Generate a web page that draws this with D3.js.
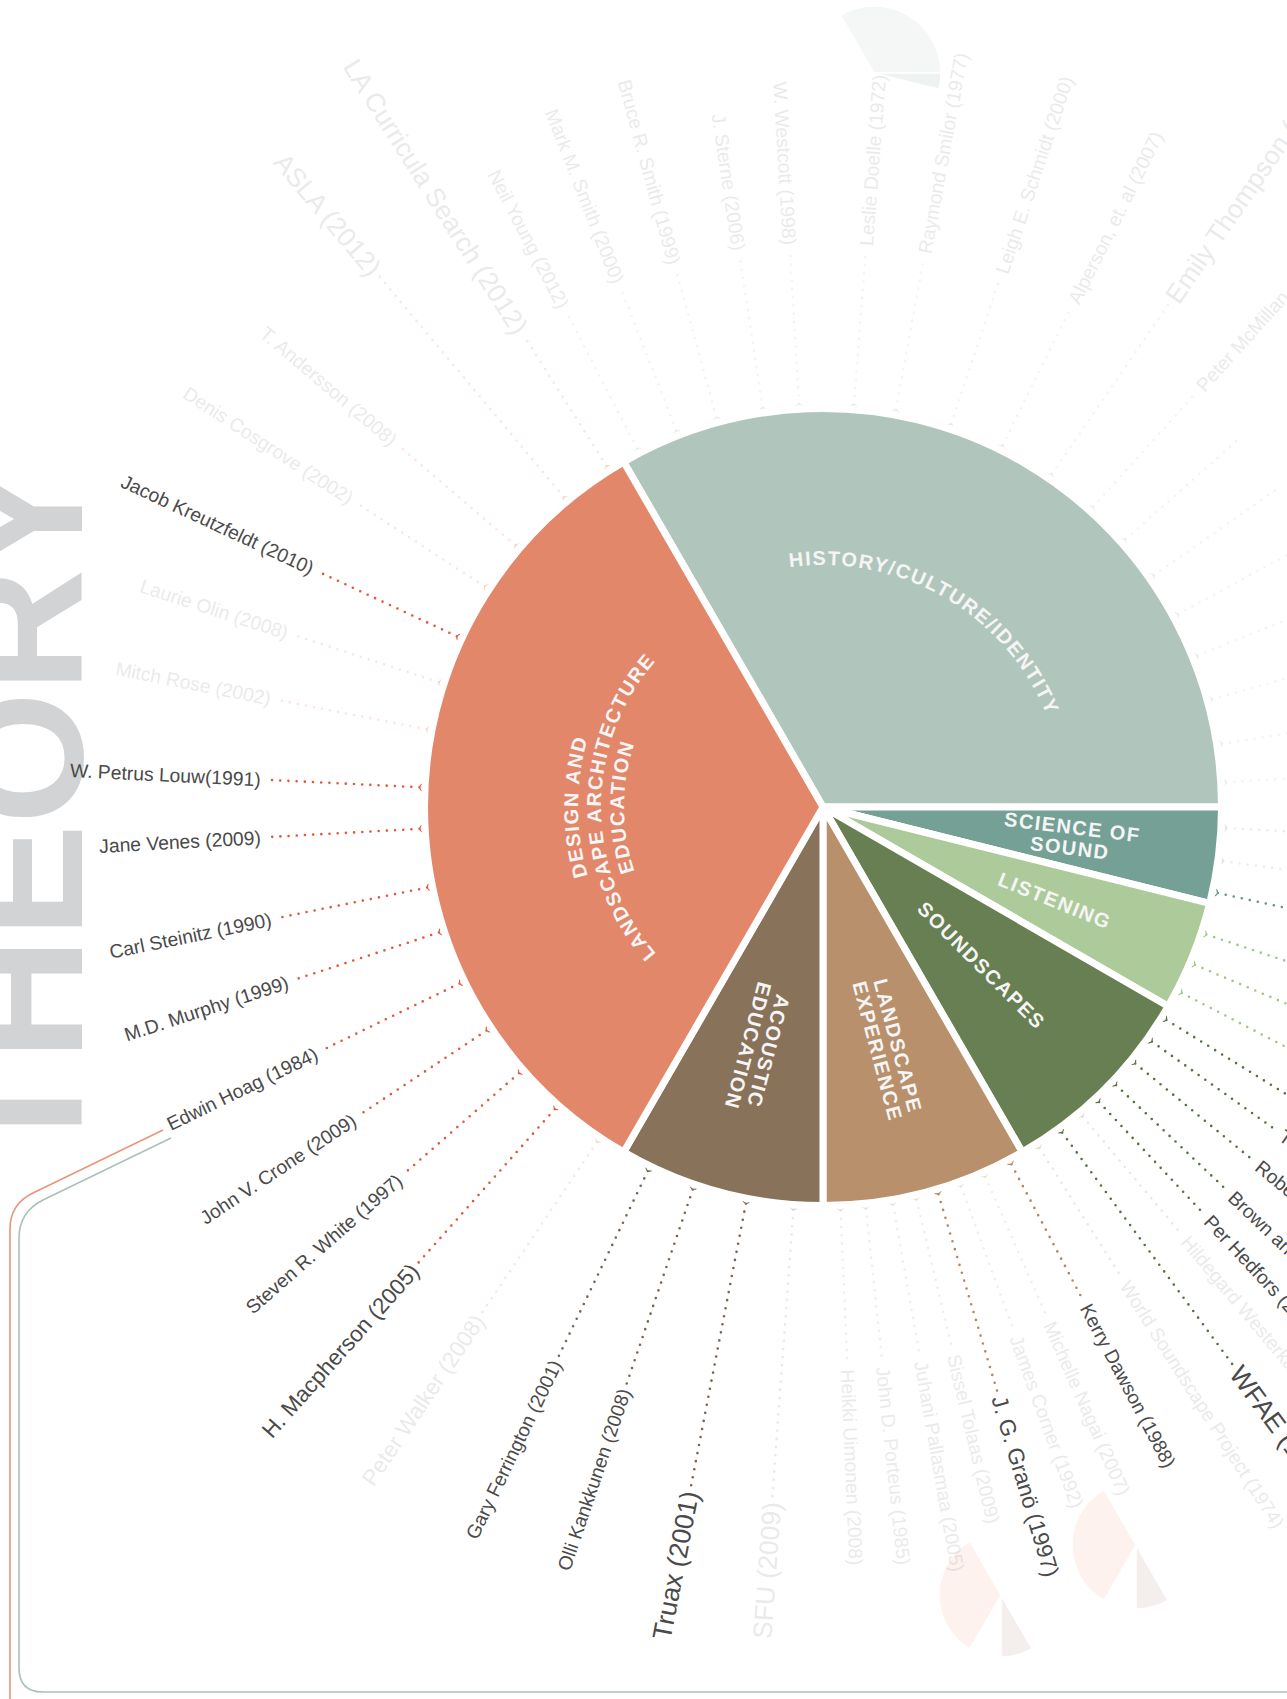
<!DOCTYPE html>
<html>
<head>
<meta charset="utf-8">
<script src="https://d3js.org/d3.v7.min.js"></script>
<style>
  body { margin: 0; background: #fff; }
  svg text { font-family: "Liberation Sans", Arial, sans-serif; }
  .ref { fill: #4a4a4a; }
  .slice-label { fill: #f5f5f5; font-weight: bold; font-size: 20px; letter-spacing: 1.5px; }
  .theory { fill: #d1d3d4; font-weight: bold; font-size: 170px; }
</style>
</head>
<body>
<svg id="chart" width="1287" height="1699"></svg>
<script>
// pie categories, clockwise from the upper-left cut
var categories = ["HISTORY/CULTURE/IDENTITY", "SCIENCE OF SOUND", "LISTENING", "SOUNDSCAPES",
                  "LANDSCAPE EXPERIENCE", "ACOUSTIC EDUCATION", "DESIGN AND LANDSCAPE ARCHITECTURE EDUCATION"];
var shares = [120, 14, 16, 30, 30, 30, 120];
var sliceLines = [["HISTORY/CULTURE/IDENTITY"], ["SCIENCE OF", "SOUND"], ["LISTENING"], ["SOUNDSCAPES"],
                  ["LANDSCAPE", "EXPERIENCE"], ["ACOUSTIC", "EDUCATION"],
                  ["DESIGN AND", "LANDSCAPE ARCHITECTURE", "EDUCATION"]];
var sliceColors = ["#b0c5bb", "#74a096", "#adca9b", "#677f52", "#b8906c", "#89725a", "#e2876a"];
var dotColors   = ["#a3bcb0", "#5f9488", "#a0c688", "#55733f", "#b4885f", "#78644f", "#e0573b"];

// references round the pie (angle in degrees, clockwise from 12 o'clock)
var refNames = [
  "Neil Young (2012)", "Mark M. Smith (2000)", "Bruce R. Smith (1999)", "J. Sterne (2006)", "W. Westcott (1998)",
  "Leslie Doelle (1972)", "Raymond Smilor (1977)", "Leigh E. Schmidt (2000)", "Alperson, et. al (2007)",
  "Emily Thompson (2002)", "Peter McMillan", "", "", "", "", "", "", "",
  "", "", "",
  "", "", "",
  "", "Truax", "Robert", "Brown and", "Per Hedfors (2003)", "Hildegard Westerkamp (2002)", "WFAE (1993)",
  "World Soundscape Project (1974)",
  "Kerry Dawson (1988)", "Michelle Nagai (2007)", "James Corner (1992)", "J. G. Granö (1997)", "Sissel Tolaas (2009)",
  "Juhani Pallasmaa (2005)", "John D. Porteus (1985)", "Heikki Uimonen (2008)",
  "SFU (2009)", "Truax (2001)", "Olli Kankkunen (2008)", "Gary Ferrington (2001)",
  "Peter Walker (2008)", "H. Macpherson (2005)", "Steven R. White (1997)", "John V. Crone (2009)", "Edwin Hoag (1984)",
  "M.D. Murphy (1999)", "Carl Steinitz (1990)", "Jane Venes (2009)", "W. Petrus Louw(1991)", "Mitch Rose (2002)",
  "Laurie Olin (2008)", "Jacob Kreutzfeldt (2010)", "Denis Cosgrove (2002)", "T. Andersson (2008)", "ASLA (2012)",
  "LA Curricula Search (2012)"
];
var refAngles = [
  332.6, 338.7, 344.7, 351.4, 356.6, 4.4, 10.4, 18.5, 26.4, 34.5, 42, 48.5, 55, 61.5, 68, 74.5, 81, 86.5,
  93, 97.7, 102.3,
  108.4, 113, 117.4,
  121.8, 125.5, 129.4, 133.5, 136.9, 140, 143.7, 147.6,
  152.2, 156.3, 160, 163.4, 166.6, 170, 173.9, 177.5,
  184.2, 191, 198.8, 205.7,
  214, 221.6, 228.8, 236.4, 244.1, 251.9, 258.5, 266.9, 272.8, 281.1, 288, 295, 303.1, 310.4, 320.1, 327.6
];
var refActive = [
  0, 0, 0, 0, 0, 0, 0, 0, 0, 0, 0, 0, 0, 0, 0, 0, 0, 0,
  0, 0, 1,
  1, 1, 1,
  1, 1, 1, 1, 1, 0, 1, 0,
  1, 0, 0, 1, 0, 0, 0, 0,
  0, 1, 1, 1,
  0, 1, 1, 1, 1, 1, 1, 1, 1, 0, 0, 1, 0, 0, 0, 0
];
// 0 small, 1 medium, 2 large
var refWeight = [
  0, 0, 0, 0, 0, 0, 0, 0, 0, 2, 0, 0, 0, 0, 0, 0, 0, 0,
  0, 0, 0,
  0, 0, 0,
  0, 0, 0, 0, 0, 0, 2, 0,
  0, 0, 0, 1, 0, 0, 0, 0,
  2, 2, 0, 0,
  1, 1, 0, 0, 0, 0, 0, 0, 0, 0, 0, 0, 0, 0, 2, 2
];
// 0 inner ring, 1 middle ring, 2 outer ring of names
var refRing = [
  0, 0, 0, 0, 0, 0, 0, 0, 0, 1, 0, 0, 0, 0, 0, 0, 0, 0,
  0, 0, 0,
  0, 0, 0,
  0, 0, 0, 0, 0, 0, 2, 0,
  0, 0, 0, 1, 0, 0, 0, 0,
  2, 2, 1, 1,
  1, 1, 0, 0, 0, 0, 0, 0, 0, 0, 0, 0, 0, 0, 2, 0
];

var svg = d3.select("#chart");
var defs = svg.append("defs");
var cx = 823, cy = 807, R = 395;
var start = -Math.PI / 6;

svg.append("rect").attr("width", 1287).attr("height", 1699).attr("fill", "#fff");

// big THEORY word, cut by the left edge
svg.append("text").attr("class", "theory")
    .attr("transform", "translate(82,462) rotate(-90)")
    .attr("text-anchor", "end")
    .text("THEORY");

// frame lines
svg.append("path")
    .attr("d", "M163,1130 L33,1193 Q10,1204 10,1229 L10,1699")
    .attr("fill", "none").attr("stroke", "#ea9479").attr("stroke-width", 1.6);
svg.append("path")
    .attr("d", "M171,1138 L43,1200 Q19,1212 19,1238 L19,1668 Q19,1692 43,1692 L1287,1692")
    .attr("fill", "none").attr("stroke", "#a9c2b7").attr("stroke-width", 1.6);

var pie = d3.pie().sort(null).startAngle(start).endAngle(start + 2 * Math.PI);
var arcs = pie(shares);

// faint mini pies
var miniPies = [
  {x: 874, y: 73, r: 67, show: [0, 1], fills: ["#f5f7f7", "#eef3f2"]},
  {x: 1136, y: 1545, r: 64, show: [6, 4], fills: ["#fdf2ed", "#f4efec"]},
  {x: 1001, y: 1595, r: 62, show: [6, 4], fills: ["#fdf2ed", "#f4efec"]}
];
miniPies.forEach(function (m) {
  var mg = svg.append("g").attr("transform", "translate(" + m.x + "," + m.y + ")");
  var ma = d3.arc().innerRadius(0).outerRadius(m.r);
  m.show.forEach(function (k, j) {
    mg.append("path").attr("d", ma(arcs[k])).attr("fill", m.fills[j])
      .attr("stroke", "#fff").attr("stroke-width", 1.5);
  });
});

var g = svg.append("g").attr("transform", "translate(" + cx + "," + cy + ")");

function pt(r, a) { return [r * Math.sin(a), -r * Math.cos(a)]; }
function sliceOf(a) {
  if (a >= start + 2 * Math.PI) a -= 2 * Math.PI;
  for (var k = 0; k < arcs.length; k++) {
    if (a >= arcs[k].startAngle && a < arcs[k].endAngle) return k;
  }
  return 0;
}

var ringR = d3.scaleOrdinal().domain([0, 1, 2]).range([563, 615, 697]);
var fontSize = d3.scaleOrdinal().domain([0, 1, 2]).range([19.3, 22.5, 26.5]);
var rad = d3.scaleLinear().domain([0, 360]).range([0, 2 * Math.PI]);

var refs = refNames.map(function (n, i) {
  var a = rad(refAngles[i]);
  return {name: n, a: a, deg: refAngles[i], active: refActive[i], size: fontSize(refWeight[i]),
          r: ringR(refRing[i]), cat: sliceOf(a)};
});

// dotted spokes
var spokes = g.append("g");
spokes.selectAll("line").data(refs).enter().append("line")
    .attr("x1", function (d) { return pt(R + 9, d.a)[0]; })
    .attr("y1", function (d) { return pt(R + 9, d.a)[1]; })
    .attr("x2", function (d) { return pt(d.r - 5, d.a)[0]; })
    .attr("y2", function (d) { return pt(d.r - 5, d.a)[1]; })
    .attr("stroke", function (d) { return dotColors[d.cat]; })
    .attr("stroke-width", 2.6)
    .attr("stroke-linecap", "round")
    .attr("stroke-dasharray", "0 8.2")
    .attr("opacity", function (d) { return d.active ? 1 : 0.14; });

spokes.selectAll("circle").data(refs).enter().append("circle")
    .attr("cx", function (d) { return pt(R + 5, d.a)[0]; })
    .attr("cy", function (d) { return pt(R + 5, d.a)[1]; })
    .attr("r", 3.6)
    .attr("fill", "#fff")
    .attr("stroke", function (d) { return dotColors[d.cat]; })
    .attr("stroke-width", 1.2)
    .attr("opacity", function (d) { return d.active ? 1 : 0.2; });

spokes.selectAll("text").data(refs).enter().append("text")
    .attr("class", "ref")
    .attr("transform", function (d) {
      var p = pt(d.r, d.a);
      var rot = d.deg < 180 ? d.deg - 90 : d.deg + 90;
      return "translate(" + p[0] + "," + p[1] + ") rotate(" + rot + ")";
    })
    .attr("text-anchor", function (d) { return d.deg < 180 ? "start" : "end"; })
    .attr("dy", "0.35em")
    .style("font-size", function (d) { return d.size + "px"; })
    .attr("opacity", function (d) { return d.active ? 1 : 0.11; })
    .text(function (d) { return d.name; });

// the pie
var arc = d3.arc().innerRadius(0).outerRadius(R + 3.5);
g.selectAll("path.slice").data(arcs).enter().append("path")
    .attr("class", "slice")
    .attr("d", arc)
    .attr("fill", function (d, i) { return sliceColors[i]; })
    .attr("stroke", "#fff")
    .attr("stroke-width", 7)
    .attr("stroke-linejoin", "round");

// slice labels
function arcPath(r, a0, a1) {
  var p0 = pt(r, a0), p1 = pt(r, a1);
  return "M" + p0 + " A" + r + "," + r + " 0 " + (a1 - a0 > Math.PI ? 1 : 0) + ",1 " + p1;
}
var straightR = {3: 224};
arcs.forEach(function (d, i) {
  var lines = sliceLines[i];
  var mid = (d.startAngle + d.endAngle) / 2;
  if (d.endAngle - d.startAngle > Math.PI / 2) {
    var base = lines.length > 1 ? 245 : 242;
    lines.forEach(function (t, j) {
      var id = "lab" + i + "_" + j;
      defs.append("path").attr("id", id).attr("d", arcPath(base - j * 23, d.startAngle, d.endAngle));
      g.append("text").attr("class", "slice-label")
        .append("textPath").attr("href", "#" + id)
        .attr("startOffset", "50%").attr("text-anchor", "middle")
        .text(t);
    });
  } else {
    var r = straightR[i] || 250;
    var p = pt(r, mid);
    var t = g.append("text").attr("class", "slice-label")
        .attr("transform", "translate(" + p[0] + "," + p[1] + ") rotate(" + (rad.invert(mid) - 90) + ")")
        .attr("text-anchor", "middle");
    lines.forEach(function (s, j) {
      t.append("tspan").attr("x", 0)
        .attr("y", (j - (lines.length - 1) / 2) * 21)
        .attr("dy", "0.35em")
        .text(s);
    });
  }
});
</script>
</body>
</html>
